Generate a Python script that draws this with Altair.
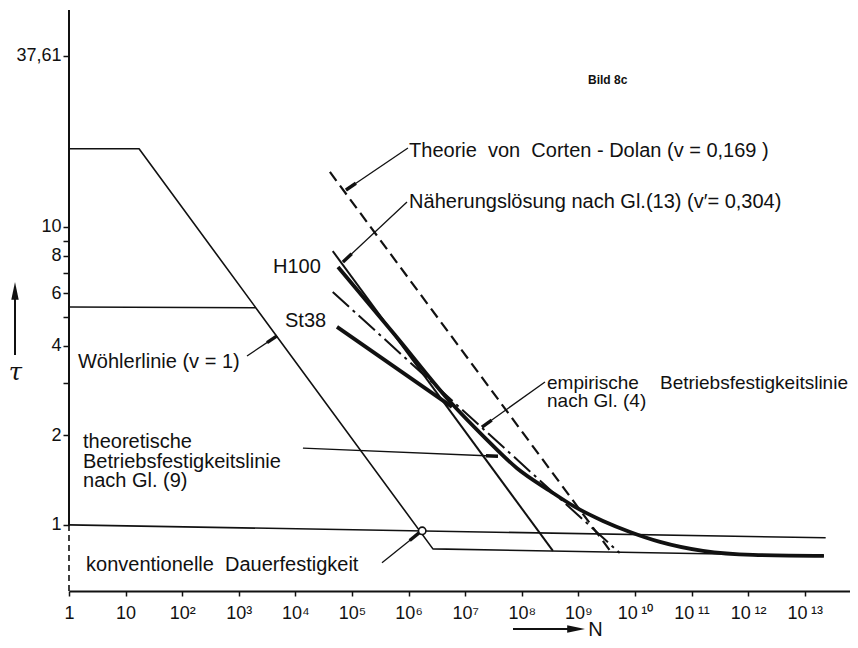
import math
import json
import altair as alt
import pandas as pd

FONT = "Liberation Sans"
INK = "#111111"

# ---------------- scales / frame ----------------
X_DOMAIN = [1, 6.3e13]
Y_DOMAIN = [0.60, 53.5]
W, H = 781, 581

# ---------------- data ----------------
# Woehler line (v = 1) with knee and endurance plateau
woehler_N = [1, 17.3, 2.69e6, 2.19e13]
woehler_tau = [18.3, 18.3, 0.831, 0.787]

# level tau = 1 (conventional endurance reference)
one_N = [1, 2.34e13]
one_tau = [1.0, 0.905]

# horizontal level at about 5.4
level_N = [1, 1950]
level_tau = [5.39, 5.36]

# Theorie von Corten-Dolan (dashed)
cd_N = [4.07e4, 3.80e9]
cd_tau = [15.3, 0.81]

# Naeherungsloesung nach Gl.(13) (thin solid)
naeh_N = [4.57e4, 3.55e8]
naeh_tau = [8.30, 0.818]

# empirische Betriebsfestigkeitslinie (dash-dot)
emp_N = [4.57e4, 5.37e9]
emp_tau = [6.05, 0.805]

# H100 / theoretical curve (thick)
h100_N = [5.66e4, 5.75e5, 5.85e6, 2.24e7, 8.22e7, 3.15e8, 8.71e8, 2.72e9,
          8.17e9, 2.77e10, 1.59e11, 1.22e12, 2.18e13]
h100_tau = [7.34, 4.34, 2.55, 1.96, 1.55, 1.30, 1.149, 1.031,
            0.947, 0.877, 0.818, 0.793, 0.787]

# St38 (thick)
st38_N = [5.43e4, 5.85e6]
st38_tau = [4.62, 2.49]

# marked point (Woehler line meets tau = 1)
circle_N = [1.74e6]
circle_tau = [0.955]

# axis ticks
x_tick_values = [1, 10, 1e2, 1e3, 1e4, 1e5, 1e6, 1e7, 1e8, 1e9, 1e10, 1e11, 1e12, 1e13]
x_tick_labels = ["1", "10", "\u200210²", "\u200210³", "\u200210⁴", "\u200210⁵", "\u200210⁶",
                 "\u200210⁷", "\u200210⁸", "\u200210⁹", "\u200310\u2009¹⁰", "\u200310\u2009¹¹",
                 "\u200310\u2009¹²", "\u200310\u2009¹³"]
y_tick_values = [1, 2, 3, 4, 5, 6, 7, 8, 9, 10, 37.61]
y_tick_labels = ["1", "2", "", "4", "", "6", "", "8", "", "10", "37,61"]

# leader lines (tail at label -> tip at curve)
leader_N1 = [9.75e5, 9.38e5, 1396, 3.39e5, 1.36e4, 2.57e8]
leader_tau1 = [18.41, 12.13, 3.69, 0.746, 1.81, 3.02]
leader_N2 = [7.83e4, 6.93e4, 4732, 1.53e6, 3.80e7, 1.98e7]
leader_tau2 = [13.31, 7.63, 4.31, 0.940, 1.70, 2.13]

# single-line labels (left end, baseline)
label_text = ["Theorie\u00a0 von\u00a0 Corten - Dolan (v = 0,169 )",
              "Näherungslösung nach Gl.(13) (v′= 0,304)",
              "H100", "St38", "Wöhlerlinie (v = 1)",
              "konventionelle\u00a0 Dauerfestigkeit"]
label_N = [1.02e6, 1.02e6, 4.02e3, 6.55e3, 1.44, 2.0]
label_tau = [17.18, 11.58, 7.01, 4.62, 3.36, 0.701]

# multi-line labels (left end, baseline of first line)
theo_lines = ["theoretische", "Betriebsfestigkeitslinie", "nach Gl. (9)"]
theo_N = [1.77]
theo_tau = [1.81]

emp_lines = ["empirische\u00a0 \u00a0 Betriebsfestigkeitslinie", "nach Gl. (4)"]
emp_label_N = [2.79e8]
emp_label_tau = [2.86]

bild_text = ["Bild 8c"]
bild_N = [1.48e9]
bild_tau = [30.2]

# ---------------- helpers ----------------
xs = alt.Scale(type="log", domain=X_DOMAIN, nice=False)
ys = alt.Scale(type="log", domain=Y_DOMAIN, nice=False)


def label_expr(values, labels):
    expr = "''"
    for v, l in reversed(list(zip(values, labels))):
        expr = f"datum.value == {v!r} ? {json.dumps(l, ensure_ascii=False)} : ({expr})"
    return expr


x_axis = alt.Axis(values=x_tick_values, labelExpr=label_expr(x_tick_values, x_tick_labels),
                  title="N", titleX=526, titleY=38, titleAlign="center", titleBaseline="middle",
                  titleFont=FONT, titleFontSize=20, titleFontWeight="normal", titleColor=INK,
                  tickSize=5, tickWidth=1.5, tickColor=INK, domainColor=INK, domainWidth=2,
                  labelFont=FONT, labelFontSize=18, labelColor=INK, labelPadding=8,
                  labelOverlap=False, labelFlush=False, labelBound=False, grid=False)
y_axis = alt.Axis(values=y_tick_values, labelExpr=label_expr(y_tick_values, y_tick_labels),
                  title="τ", titleAngle=0, titleX=-54, titleY=362, titleAlign="center",
                  titleBaseline="middle", titleFont="DejaVu Serif", titleFontSize=24,
                  titleFontWeight="normal", titleFontStyle="italic", titleColor=INK,
                  domain=False, tickSize=6, tickWidth=1.5, tickColor=INK,
                  labelFont=FONT, labelFontSize=18, labelColor=INK, labelPadding=2,
                  labelOverlap=False, labelFlush=False, labelBound=False, grid=False)


def X(field):
    return alt.X(field, scale=xs, axis=x_axis)


def Y(field):
    return alt.Y(field, scale=ys, axis=y_axis)


def line_layer(N, tau, width, dash=None, interpolate="linear"):
    df = pd.DataFrame({"N": N, "tau": tau, "o": list(range(len(N)))})
    kw = dict(color=INK, strokeWidth=width, interpolate=interpolate, strokeJoin="round")
    if dash:
        kw["strokeDash"] = dash
    return alt.Chart(df).mark_line(**kw).encode(x=X("N:Q"), y=Y("tau:Q"), order="o:Q")


# pixel factors (used only to size the arrowheads along each leader)
PX_X = W / (math.log10(X_DOMAIN[1]) - math.log10(X_DOMAIN[0]))
PX_Y = H / (math.log10(Y_DOMAIN[1]) - math.log10(Y_DOMAIN[0]))
HEAD_PX = 12


def head_back(n1, t1, n2, t2):
    """point HEAD_PX pixels back from the tip (n2, t2) towards the tail (n1, t1)"""
    lx1, ly1, lx2, ly2 = map(math.log10, (n1, t1, n2, t2))
    length = math.hypot((lx2 - lx1) * PX_X, (ly2 - ly1) * PX_Y)
    f = HEAD_PX / length
    return 10 ** (lx2 + f * (lx1 - lx2)), 10 ** (ly2 + f * (ly1 - ly2))


ARROW = "M0,0L0.5,2.4L-0.5,2.4Z"

layers = []
# y-axis line: solid above 1, dashed below
yax = pd.DataFrame({"N": [X_DOMAIN[0]], "t1": [Y_DOMAIN[1]], "t2": [1.0], "t3": [Y_DOMAIN[0]]})
layers.append(alt.Chart(yax).mark_rule(color=INK, strokeWidth=2).encode(
    x=X("N:Q"), y=Y("t1:Q"), y2="t2:Q"))
layers.append(alt.Chart(yax).mark_rule(color=INK, strokeWidth=1.6, strokeDash=[6, 4]).encode(
    x=X("N:Q"), y=Y("t2:Q"), y2="t3:Q"))

layers.append(line_layer(woehler_N, woehler_tau, 1.6))
layers.append(line_layer(one_N, one_tau, 1.6))
layers.append(line_layer(level_N, level_tau, 1.6))
layers.append(line_layer(cd_N, cd_tau, 2.2, dash=[11, 6]))
layers.append(line_layer(naeh_N, naeh_tau, 2.0))
layers.append(line_layer(emp_N, emp_tau, 2.0, dash=[22, 5, 3, 5]))
layers.append(line_layer(h100_N, h100_tau, 3.8, interpolate="monotone"))
layers.append(line_layer(st38_N, st38_tau, 3.8))

# leaders with elongated heads
lead = pd.DataFrame({"N": leader_N1, "tau": leader_tau1, "N2": leader_N2, "tau2": leader_tau2})
backs = [head_back(a, b, c, d) for a, b, c, d in zip(leader_N1, leader_tau1, leader_N2, leader_tau2)]
lead["Nb"] = [b[0] for b in backs]
lead["taub"] = [b[1] for b in backs]
layers.append(alt.Chart(lead).mark_rule(color=INK, strokeWidth=1.3).encode(
    x=X("N:Q"), y=Y("tau:Q"), x2="N2:Q", y2="tau2:Q"))
layers.append(alt.Chart(lead).mark_rule(color=INK, strokeWidth=3.4, strokeCap="butt").encode(
    x=X("Nb:Q"), y=Y("taub:Q"), x2="N2:Q", y2="tau2:Q"))

# circle
circ = pd.DataFrame({"N": circle_N, "tau": circle_tau})
layers.append(alt.Chart(circ).mark_point(shape="circle", size=55, filled=True, fill="white",
                                         stroke=INK, strokeWidth=1.6, opacity=1).encode(
    x=X("N:Q"), y=Y("tau:Q")))

# labels
lab = pd.DataFrame({"N": label_N, "tau": label_tau, "text": label_text})
layers.append(alt.Chart(lab).mark_text(align="left", baseline="alphabetic", font=FONT,
                                       fontSize=20, color=INK).encode(
    x=X("N:Q"), y=Y("tau:Q"), text="text:N"))
theo = pd.DataFrame({"N": theo_N, "tau": theo_tau, "text": [theo_lines]})
layers.append(alt.Chart(theo).mark_text(align="left", baseline="alphabetic", font=FONT,
                                        fontSize=20, lineHeight=19.5, color=INK).encode(
    x=X("N:Q"), y=Y("tau:Q"), text="text"))
elab = pd.DataFrame({"N": emp_label_N, "tau": emp_label_tau, "text": [emp_lines]})
layers.append(alt.Chart(elab).mark_text(align="left", baseline="alphabetic", font=FONT,
                                        fontSize=19, lineHeight=18, color=INK).encode(
    x=X("N:Q"), y=Y("tau:Q"), text="text"))
blab = pd.DataFrame({"N": bild_N, "tau": bild_tau, "text": bild_text})
layers.append(alt.Chart(blab).mark_text(align="left", baseline="alphabetic", font=FONT,
                                        fontSize=12, fontWeight="bold", color=INK).encode(
    x=X("N:Q"), y=Y("tau:Q"), text="text:N"))

# axis title arrows (annotation, pixel positions)
one = pd.DataFrame({"a": [0]})
layers.append(alt.Chart(one).mark_rule(color=INK, strokeWidth=2).encode(
    x=alt.value(-54), y=alt.value(285), y2=alt.value(345)))
layers.append(alt.Chart(one).mark_point(shape=ARROW, filled=True, color=INK, size=220, opacity=1, angle=0).encode(
    x=alt.value(-54), y=alt.value(272)))
layers.append(alt.Chart(one).mark_rule(color=INK, strokeWidth=2).encode(
    x=alt.value(444), x2=alt.value(504), y=alt.value(619)))
layers.append(alt.Chart(one).mark_point(shape=ARROW, filled=True, color=INK, size=220, opacity=1, angle=90).encode(
    x=alt.value(516), y=alt.value(619)))

chart = alt.layer(*layers).properties(
    width=W, height=H,
    autosize=alt.AutoSizeParams(type="none"),
    padding={"left": 61, "top": 2, "right": 0, "bottom": 49},
    background="white",
).configure_view(stroke=None)

chart.save("out.html", embed_options={"renderer": "svg", "actions": False})
